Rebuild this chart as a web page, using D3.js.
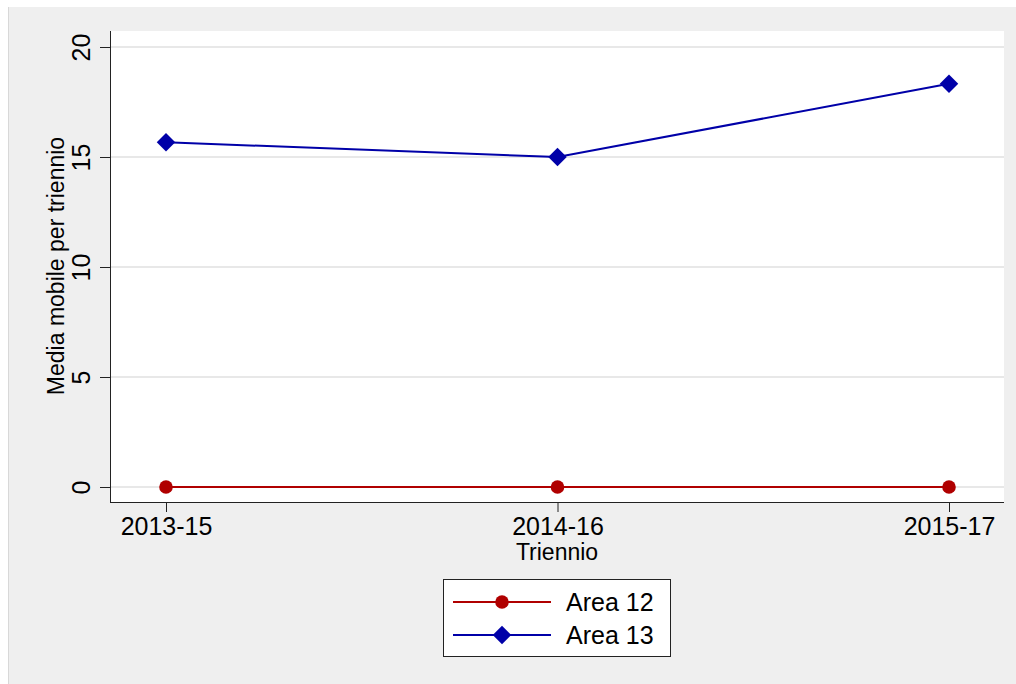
<!DOCTYPE html>
<meta charset="utf-8">
<style>
    body { margin: 0; background: white; }
    svg text { font-family: "Liberation Sans", Arial, sans-serif; fill: black; }
</style>
<body>
<script src="https://cdn.jsdelivr.net/npm/d3@7"></script>
<script>
    // data
    var trienni = ["2013-15", "2014-16", "2015-17"];
    var area12 = [0, 0, 0];
    var area13 = [15.67, 15, 18.33];
    var yTicks = [0, 5, 10, 15, 20];

    var w = 1016, h = 684;
    var plot = {left: 110, right: 1004, top: 31, bottom: 502};

    var svg = d3.select("body").append("svg")
        .attr("width", w).attr("height", h);

    // outer gray panel
    svg.append("rect").attr("x", 8).attr("y", 7)
        .attr("width", w - 8).attr("height", h - 7)
        .attr("fill", "#efefef");
    svg.append("line").attr("x1", 8.5).attr("x2", 8.5).attr("y1", 7).attr("y2", h)
        .attr("stroke", "#d8d8d8");

    // plot region
    svg.append("rect").attr("x", plot.left).attr("y", plot.top)
        .attr("width", plot.right - plot.left).attr("height", plot.bottom - plot.top)
        .attr("fill", "white");

    var x = d3.scalePoint().domain(trienni).range([166, 949]);
    var y = d3.scaleLinear().domain([0, 20]).range([487, 47]);

    // grid
    svg.selectAll(".grid").data(yTicks).enter().append("line")
        .attr("x1", plot.left).attr("x2", plot.right)
        .attr("y1", function(d) { return y(d); })
        .attr("y2", function(d) { return y(d); })
        .attr("stroke", "#e8e8e8").attr("stroke-width", 2);

    // y axis
    var yAxis = svg.append("g").attr("transform", "translate(" + plot.left + ",0)")
        .call(d3.axisLeft(y).tickValues(yTicks).tickSize(10).tickSizeOuter(0));
    yAxis.select(".domain").attr("d", "M0.5," + plot.top + "V" + plot.bottom).attr("stroke", "#222");
    yAxis.selectAll(".tick line").attr("stroke", "#222");
    yAxis.selectAll(".tick text")
        .attr("font-size", 25).attr("x", 0).attr("dy", 0)
        .attr("text-anchor", "middle")
        .attr("transform", "translate(-20,0) rotate(-90)")
        .style("font-family", "'Liberation Sans', Arial, sans-serif")
        .attr("fill", "black");

    // x axis
    var xAxis = svg.append("g").attr("transform", "translate(0," + plot.bottom + ")")
        .call(d3.axisBottom(x).tickSize(10).tickSizeOuter(0));
    xAxis.select(".domain").attr("d", "M" + plot.left + ",0.5H" + plot.right).attr("stroke", "#222");
    xAxis.selectAll(".tick line").attr("stroke", "#222");
    xAxis.selectAll(".tick text")
        .attr("font-size", 25).attr("y", 15).attr("dy", "0.71em")
        .style("font-family", "'Liberation Sans', Arial, sans-serif")
        .attr("fill", "black");

    // axis titles
    svg.append("text").attr("x", 557).attr("y", 560)
        .attr("text-anchor", "middle").attr("font-size", 23).text("Triennio");
    svg.append("text").attr("transform", "translate(64,266) rotate(-90)")
        .attr("text-anchor", "middle").attr("font-size", 23).text("Media mobile per triennio");

    var series = [
        {name: "Area 12", values: area12, color: "#b00000", shape: "circle"},
        {name: "Area 13", values: area13, color: "#0000a8", shape: "diamond"}
    ];

    var line = d3.line()
        .x(function(d, i) { return x(trienni[i]); })
        .y(function(d) { return y(d); });

    function symbolFor(s) {
        return s.shape === "circle"
            ? d3.symbol().type(d3.symbolCircle).size(145)
            : d3.symbol().type(d3.symbolSquare).size(170);
    }

    series.forEach(function(s) {
        svg.append("path").datum(s.values).attr("d", line)
            .attr("fill", "none").attr("stroke", s.color).attr("stroke-width", 2);
        svg.selectAll(null).data(s.values).enter().append("path")
            .attr("d", symbolFor(s))
            .attr("transform", function(d, i) {
                return "translate(" + x(trienni[i]) + "," + y(d) + ")" + (s.shape === "diamond" ? " rotate(45)" : "");
            })
            .attr("fill", s.color);
    });

    // legend
    var lg = svg.append("g");
    lg.append("rect").attr("x", 443.5).attr("y", 579.5).attr("width", 227).attr("height", 77)
        .attr("fill", "white").attr("stroke", "#222");
    series.forEach(function(s, i) {
        var ly = 602 + i * 33;
        lg.append("line").attr("x1", 453).attr("x2", 551).attr("y1", ly).attr("y2", ly)
            .attr("stroke", s.color).attr("stroke-width", 2);
        lg.append("path").attr("d", symbolFor(s))
            .attr("transform", "translate(502," + ly + ")" + (s.shape === "diamond" ? " rotate(45)" : ""))
            .attr("fill", s.color);
        lg.append("text").attr("x", 566).attr("y", ly).attr("dy", "0.36em")
            .attr("font-size", 25).text(s.name);
    });
</script>
</body>
